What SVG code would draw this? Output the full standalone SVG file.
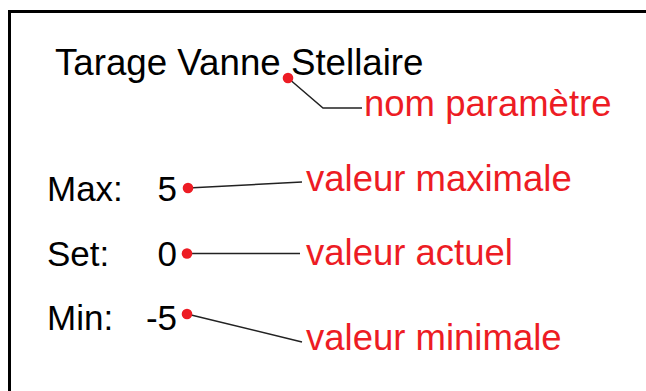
<svg xmlns="http://www.w3.org/2000/svg" width="646" height="391" viewBox="0 0 646 391">
<style>
.t{font-family:"Liberation Sans",Arial,sans-serif;fill:#000}
.r{font-family:"Liberation Sans",Arial,sans-serif;fill:#ed1c24;font-size:36.5px}
.c{fill:none;stroke:#222;stroke-width:1.5}
.d{fill:#ed1c24}
</style>
<rect x="0" y="0" width="646" height="391" fill="#fff"/>
<rect x="9.5" y="11.5" width="700" height="500" fill="none" stroke="#000" stroke-width="3"/>
<g id="title"><text class="t" x="55" y="75" font-size="36.7">Tarage Vanne Stellaire</text></g>
<g id="max"><text class="t" x="47" y="201" font-size="35">Max:</text><text class="t" x="177" y="201" font-size="35" text-anchor="end">5</text></g>
<g id="set"><text class="t" x="47" y="266" font-size="35">Set:</text><text class="t" x="177" y="266" font-size="35" text-anchor="end">0</text></g>
<g id="min"><text class="t" x="47" y="330" font-size="35">Min:</text><text class="t" x="177" y="330" font-size="35" text-anchor="end">-5</text></g>
<g id="label-nom"><text class="r" x="364" y="116">nom paramètre</text></g>
<g id="label-max"><text class="r" x="306" y="191">valeur maximale</text></g>
<g id="label-set"><text class="r" x="306" y="265">valeur actuel</text></g>
<g id="label-min"><text class="r" x="306" y="350">valeur minimale</text></g>
<g id="connectors">
<polyline class="c" points="288,78 323,108 362,108"/>
<line class="c" x1="188" y1="188" x2="302" y2="182"/>
<line class="c" x1="187" y1="253.5" x2="300" y2="253.5"/>
<line class="c" x1="187" y1="314" x2="302" y2="342"/>
<circle class="d" cx="288" cy="78" r="5.3"/>
<circle class="d" cx="188" cy="188" r="5.3"/>
<circle class="d" cx="187" cy="253.5" r="5.3"/>
<circle class="d" cx="187" cy="314" r="5.3"/>
</g>
</svg>
